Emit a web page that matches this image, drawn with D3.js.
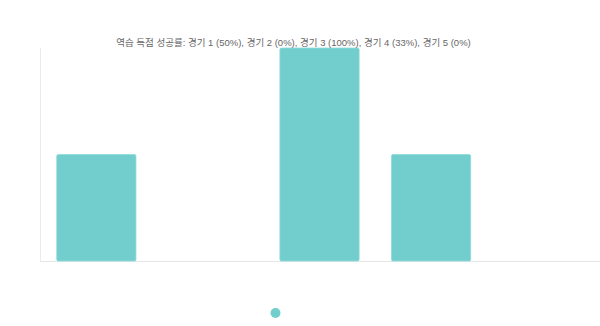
<!DOCTYPE html>
<html>
<head>
<meta charset="utf-8">
<script src="https://cdn.jsdelivr.net/npm/d3@7"></script>
<style>
  body { margin: 0; background: #fff; }
  text { font-family: "Liberation Sans", Arial, "Noto Sans CJK KR", sans-serif; }
</style>
</head>
<body>
<svg id="chart" width="600" height="326"></svg>
<script>
// Chart data
const games = ['경기 1', '경기 2', '경기 3', '경기 4', '경기 5'];
const counterGoals = [1, 0, 2, 1, 0];
const successRates = [50, 0, 100, 33, 0];

const width = 600, height = 326;
const margin = { top: 48, right: 1, bottom: 65, left: 40 };
const barColour = '#72cdcd';

const svg = d3.select('#chart');

const x = d3.scaleBand()
  .domain(games)
  .range([margin.left, width - margin.right])
  .paddingInner(0.29)
  .paddingOuter(0.15);

const y = d3.scaleLinear()
  .domain([0, d3.max(counterGoals)])
  .range([height - margin.bottom, margin.top]);

// Axis lines, no ticks or labels
svg.append('line')
  .attr('x1', margin.left + 0.5).attr('x2', margin.left + 0.5)
  .attr('y1', margin.top).attr('y2', y(0))
  .attr('stroke', '#ebebeb');
svg.append('line')
  .attr('x1', margin.left).attr('x2', width)
  .attr('y1', y(0) + 0.5).attr('y2', y(0) + 0.5)
  .attr('stroke', '#e6e6e6');

// Bars
svg.append('g')
  .selectAll('rect')
  .data(counterGoals)
  .join('rect')
  .attr('x', (d, i) => x(games[i]))
  .attr('y', d => y(d))
  .attr('width', x.bandwidth())
  .attr('height', d => y(0) - y(d))
  .attr('rx', 1.5)
  .attr('fill', barColour)
  .attr('stroke', '#8fdada')
  .attr('stroke-width', 0.8)
  .style('display', d => (d > 0 ? null : 'none'));

// Title
const title = '역습 득점 성공률: ' + games.map((g, i) => `${g} (${successRates[i]}%)`).join(', ');
svg.append('text')
  .attr('x', 293.5)
  .attr('y', 46)
  .attr('text-anchor', 'middle')
  .attr('font-size', 9.5)
  .attr('fill', '#666')
  .text(title);

// Legend dot
svg.append('circle')
  .attr('cx', 275.5)
  .attr('cy', 313)
  .attr('r', 5)
  .attr('fill', barColour);
</script>
</body>
</html>
